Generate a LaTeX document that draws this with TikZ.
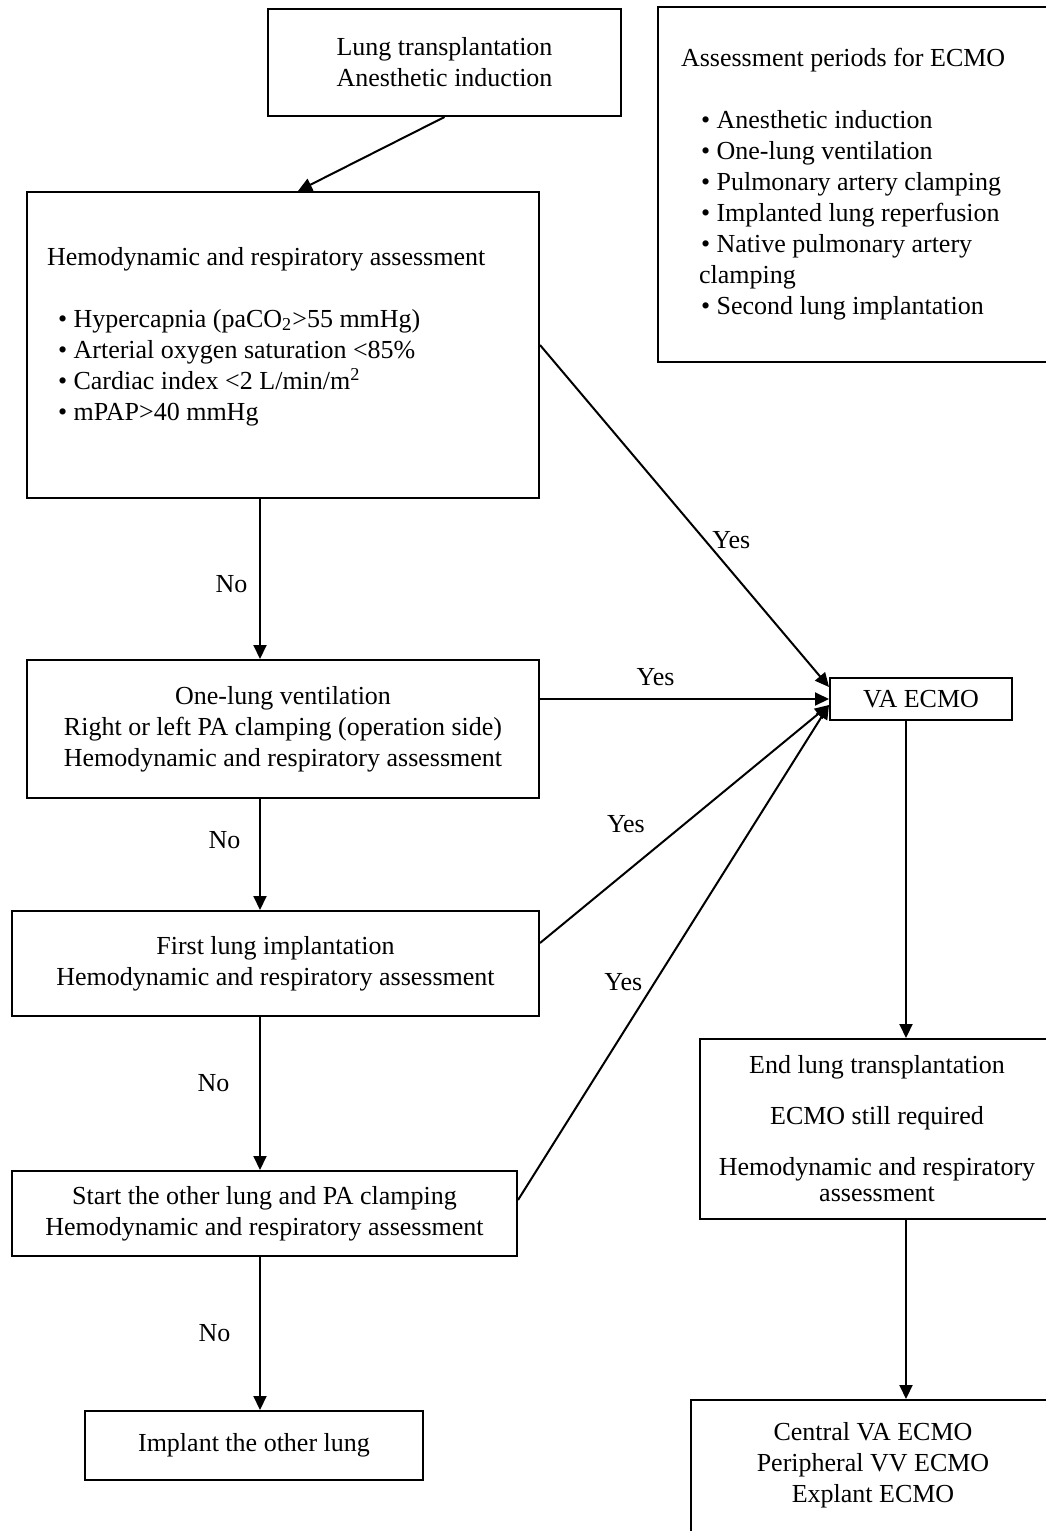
\documentclass[tikz,border=0pt]{standalone}
\usepackage{fontspec}
\setmainfont{Liberation Serif}
\usetikzlibrary{arrows.meta, positioning}

\begin{document}
\begin{tikzpicture}[x=0.5pt, y=-0.5pt, on grid, line width=1pt,
	>={Triangle[length=7pt, width=6.5pt]},
	every node/.style={font=\fontsize{13}{15.5}\selectfont},
	box/.style={draw, line width=1pt, inner sep=0pt, align=center},
	arr/.style={->, line width=1pt}]

	\useasboundingbox (0,0) rectangle (1045,1531);

	\coordinate (lspine) at (260,0);
	\coordinate (rspine) at (906,0);

	\node (start) [box, minimum width=176.5pt, minimum height=53.5pt] at (444.5,62.5)
		{Lung transplantation\\Anesthetic induction};
	\node (hemo) [box, align=flush left, text width=236pt, inner xsep=10pt,
		text height=36.5pt, text depth=116.5pt] at (283,345)
		{Hemodynamic and respiratory assessment\\[15.5pt]
		\hspace*{5.5pt}\textbullet\ Hypercapnia (paCO\textsubscript{2}>55 mmHg)\\
		\hspace*{5.5pt}\textbullet\ Arterial oxygen saturation <85\%\\
		\hspace*{5.5pt}\textbullet\ Cardiac index <2 L/min/m\textsuperscript{2}\\
		\hspace*{5.5pt}\textbullet\ mPAP>40 mmHg};
	\node (periods) [box, align=flush left, text width=178pt, inner xsep=11.5pt,
		minimum height=177.5pt] at (859,184.5)
		{Assessment periods for ECMO\\[15.5pt]
		\hspace*{10pt}\textbullet\ Anesthetic induction\\
		\hspace*{10pt}\textbullet\ One-lung ventilation\\
		\hspace*{10pt}\textbullet\ Pulmonary artery clamping\\
		\hspace*{10pt}\textbullet\ Implanted lung reperfusion\\
		\hspace*{10pt}\textbullet\ Native pulmonary artery\\
		\hspace*{9pt}clamping\\
		\hspace*{10pt}\textbullet\ Second lung implantation};

	\node (ola) [box, minimum width=256pt, minimum height=69pt, below = 192pt of hemo]
		{One-lung ventilation\\Right or left PA clamping (operation side)\\Hemodynamic and respiratory assessment};
	\node (first) [box, minimum width=263.5pt, minimum height=52.5pt, below left = 117.25pt and 3.75pt of ola]
		{First lung implantation\\Hemodynamic and respiratory assessment};
	\node (other) [box, minimum width=252.5pt, minimum height=42.5pt, below left = 125pt and 5.5pt of first]
		{Start the other lung and PA clamping\\Hemodynamic and respiratory assessment};
	\node (implant) [box, minimum width=169pt, minimum height=34.5pt, below left = 116pt and 5.25pt of other]
		{Implant the other lung};

	\node (va) [box, minimum width=91pt, minimum height=21pt] at (921,699) {VA ECMO};
	\node (endlt) [box, minimum width=177pt, minimum height=90pt, below left = 215pt and 22pt of va]
		{End lung transplantation\\[10pt]ECMO still required\\[10pt]Hemodynamic and respiratory\\[-2.5pt]assessment};
	\node (final) [box, align=flush center, text width=172pt, inner xsep=5pt, text height=20pt, text depth=60pt,
		below left = 175.5pt and 2pt of endlt]
		{Central VA ECMO\\Peripheral VV ECMO\\Explant ECMO};

	\path [arr]
	(start.south) edge ([xshift=7.5pt]hemo.north)

	(hemo.south -| lspine) edge node [pos=0.53, left=2.5pt] {No} (ola.north -| lspine)
	(ola.south -| lspine) edge node [pos=0.37, left=6pt] {No} (first.north -| lspine)
	(first.south -| lspine) edge node [pos=0.43, left=11.5pt] {No} (other.north -| lspine)
	(other.south -| lspine) edge node [pos=0.5, left=11pt] {No} (implant.north -| lspine)

	(hemo.east) edge node [pos=0.57, right] {Yes} ([yshift=6pt]va.west)
	(ola.east |- va.west) edge node [pos=0.4, above=3pt] {Yes} (va.west)
	([yshift=10.25pt]first.east) edge node [pos=0.5, left=16pt] {Yes} ([yshift=-3pt]va.west)
	([yshift=6.75pt]other.east) edge node [pos=0.44, left=2.5pt] {Yes} ([yshift=-3pt]va.west)

	(va.south -| rspine) edge (endlt.north -| rspine)
	(endlt.south -| rspine) edge (final.north -| rspine);

\end{tikzpicture}
\end{document}
